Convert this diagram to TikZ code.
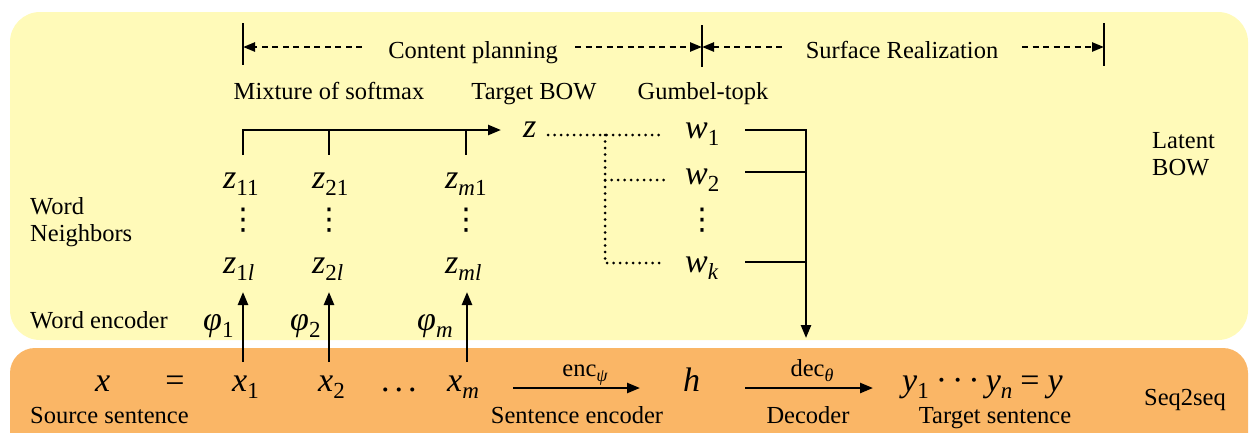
\documentclass[tikz,border=0pt]{standalone}
\usepackage{fontspec}
\newfontfamily\tms{Liberation Serif}
\newfontfamily\symfont{DejaVu Sans}
\usetikzlibrary{arrows.meta}
\definecolor{paleyellow}{RGB}{255,250,185}
\definecolor{softorange}{RGB}{250,182,102}
\newcommand\lbl{\tms\fontsize{24.5}{27}\selectfont}
\newcommand\mth{\tms\fontsize{34}{34}\selectfont\itshape}
\newcommand\sbs[1]{\raisebox{-7pt}{\fontsize{23}{23}\selectfont #1}}
\newcommand\lsb[1]{\raisebox{-5pt}{\fontsize{18}{18}\selectfont\itshape #1}}
\begin{document}
\begin{tikzpicture}[x=1pt,y=-1pt,
  lab/.style={font=\lbl, inner sep=0pt, anchor=base},
  labw/.style={font=\lbl, inner sep=0pt, anchor=base west},
  mv/.style={font=\mth, inner sep=0pt, anchor=base west},
  vdot/.style={font=\symfont\fontsize{30}{30}\selectfont, inner sep=0pt},
  solidline/.style={line width=2.4pt},
  arr/.style={line width=2.4pt, -{Triangle[length=13pt,width=10pt]}},
  dsh/.style={line width=2.4pt, dash pattern=on 6pt off 4.5pt},
  dsharr/.style={dsh, -{Triangle[length=12pt,width=9pt]}},
  dotln/.style={line width=3pt, line cap=round, dash pattern=on 0pt off 6.5pt}]
\useasboundingbox (0,0) rectangle (1252,432);
\begin{scope}
\clip (0,0) rectangle (1252,432);
\fill[paleyellow, rounded corners=30pt] (10,12) rectangle (1248,340);
\fill[softorange, rounded corners=25pt] (10,348) rectangle (1248,480);
\end{scope}

% top phase line
\node[lab] (cp) at (473,58) {Content planning};
\node[lab] (sr) at (902,58) {Surface Realization};
\coordinate (bLt) at (243,23); \coordinate (bLb) at (243,65); \coordinate (bL) at (243,47);
\coordinate (bMt) at (702,25); \coordinate (bMb) at (702,67); \coordinate (bM) at (702,47);
\coordinate (bRt) at (1104,23); \coordinate (bRb) at (1104,66); \coordinate (bR) at (1104,47);
\coordinate (cpL) at (362,47); \coordinate (cpR) at (575,47);
\coordinate (srL) at (782,47); \coordinate (srR) at (1022,47);
\draw[solidline] (bLt) -- (bLb);
\draw[solidline] (bMt) -- (bMb);
\draw[solidline] (bRt) -- (bRb);
\draw[dsharr] (cpL) -- (bL);
\draw[dsharr] (cpR) -- (bM);
\draw[dsharr] (srL) -- (bM);
\draw[dsharr] (srR) -- (bR);

% second row labels
\node[lab] (mos) at (329,99) {Mixture of softmax};
\node[lab] (tbow) at (534,99) {Target BOW};
\node[lab] (gum) at (703,99) {Gumbel-topk};

% side labels
\node[labw] (wd) at (30,214) {Word};
\node[labw] (nb) at (30,241) {Neighbors};
\node[labw] (we) at (30,328) {Word encoder};
\node[labw] (ss) at (30,423) {Source sentence};
\node[labw] (lat) at (1152,148) {Latent};
\node[labw] (lbow) at (1152,175) {BOW};
\node[lab] (s2s) at (1185,405) {Seq2seq};
\node[lab] (senc) at (577,423) {Sentence encoder};
\node[lab] (dcd) at (808,423) {Decoder};
\node[lab] (ts) at (995,423) {Target sentence};

% word neighbours
\node[mv] (z11) at (223,188) {z\sbs{\upshape 11}};
\node[mv] (z21) at (312,188) {z\sbs{\upshape 21}};
\node[mv] (zm1) at (445,188) {z\sbs{m\upshape 1}};
\node[vdot] (v1) at (243,220) {⋮};
\node[vdot] (v2) at (329,220) {⋮};
\node[vdot] (v3) at (466,220) {⋮};
\node[mv] (z1l) at (223,273) {z\sbs{\upshape 1\itshape l}};
\node[mv] (z2l) at (312,273) {z\sbs{\upshape 2\itshape l}};
\node[mv] (zml) at (445,273) {z\sbs{ml}};

% target BOW and gumbel
\node[mv] (z) at (523,137) {z};
\node[mv] (w1) at (685,138) {w\sbs{\upshape 1}};
\node[mv] (w2) at (685,184) {w\sbs{\upshape 2}};
\node[vdot] (vw) at (702,220) {⋮};
\node[mv] (wk) at (685,272) {w\sbs{k}};

% encoder labels
\node[mv] (p1) at (203,330) {φ\sbs{\upshape 1}};
\node[mv] (p2) at (290,330) {φ\sbs{\upshape 2}};
\node[mv] (pm) at (417,330) {φ\sbs{m}};

% seq2seq row
\node[mv] (x) at (95,391) {x};
\node[mv, anchor=base] (eq) at (175,391) {\upshape =};
\node[mv] (x1) at (232,391) {x\sbs{\upshape 1}};
\node[mv] (x2) at (318,391) {x\sbs{\upshape 2}};
\node[mv] (xd) at (381,391) {\upshape .\kern5pt.\kern5pt.};
\node[mv] (xm) at (447,391) {x\sbs{m}};
\node[mv] (h) at (683,391) {h};
\node[mv] (y) at (902,391) {y\sbs{\upshape 1}\kern7pt\upshape·\kern5pt·\kern5pt·\kern6pt\itshape y\sbs{n}\kern8pt\upshape=\kern8pt\itshape y};
\node[lab] (enc) at (585,376) {enc\lsb{ψ}};
\node[lab] (dec) at (812,376) {dec\lsb{θ}};

% mixture bracket and arrow
\coordinate (t1a) at (243,155); \coordinate (t1) at (243,130);
\coordinate (t2a) at (329,155); \coordinate (t2) at (329,130);
\coordinate (t3a) at (466,155); \coordinate (t3) at (466,130);
\coordinate (tip) at (501,130);
\draw[arr] (t1a) -- (t1) -- (tip);
\draw[solidline] (t2) -- (t2a);
\draw[solidline] (t3) -- (t3a);

% dotted links
\coordinate (dz) at (548,135); \coordinate (dw1) at (665,135);
\coordinate (dj) at (605,135); \coordinate (dj2) at (605,180); \coordinate (djk) at (605,263);
\coordinate (dw2) at (665,180); \coordinate (dwk) at (665,263);
\draw[dotln] (dz) -- (dw1);
\draw[dotln] (dj) -- (djk) -- (dwk);
\draw[dotln] (dj2) -- (dw2);

% gumbel bracket to decoder
\coordinate (g1) at (745,130); \coordinate (g1r) at (806,130);
\coordinate (g2) at (745,172); \coordinate (g2r) at (806,172);
\coordinate (gk) at (745,262); \coordinate (gkr) at (806,262);
\coordinate (gdn) at (806,338);
\draw[arr] (g1) -- (g1r) -- (gdn);
\draw[solidline] (g2) -- (g2r);
\draw[solidline] (gk) -- (gkr);

% word encoder arrows
\coordinate (e1a) at (243,362); \coordinate (e1b) at (243,292);
\coordinate (e2a) at (329,362); \coordinate (e2b) at (329,292);
\coordinate (e3a) at (467,362); \coordinate (e3b) at (467,292);
\draw[arr] (e1a) -- (e1b);
\draw[arr] (e2a) -- (e2b);
\draw[arr] (e3a) -- (e3b);

% encoder / decoder arrows
\coordinate (ea) at (513,388); \coordinate (eb) at (640,388);
\coordinate (da) at (745,388); \coordinate (db) at (873,388);
\draw[arr] (ea) -- (eb);
\draw[arr] (da) -- (db);
\end{tikzpicture}
\end{document}
